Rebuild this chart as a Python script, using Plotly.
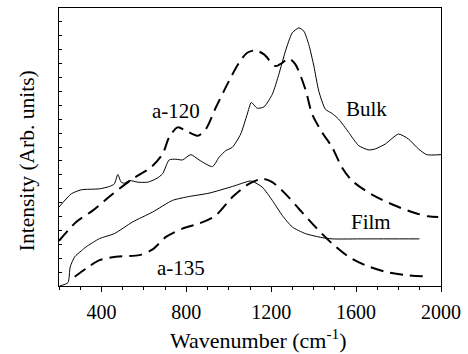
import plotly.graph_objects as go

bulk_x = [200, 258, 305, 391, 438, 461, 477, 493, 508, 532, 571, 618, 657, 688, 719, 751, 782, 821, 860, 923, 954, 986, 1017, 1056, 1087, 1106, 1134, 1166, 1205, 1236, 1267, 1299, 1330, 1354, 1377, 1401, 1424, 1455, 1487, 1518, 1565, 1612, 1659, 1690, 1737, 1800, 1847, 1894, 1933, 2000]
bulk_y = [5.68, 6.63, 6.92, 6.99, 7.16, 7.35, 8.02, 7.47, 7.40, 7.59, 7.47, 7.47, 7.71, 8.07, 9.07, 9.12, 9.07, 9.45, 9.07, 8.59, 9.26, 9.74, 9.98, 10.93, 12.36, 13.20, 12.79, 12.89, 13.79, 15.23, 16.90, 18.21, 18.57, 18.33, 17.37, 15.82, 14.03, 12.72, 12.41, 12.00, 11.05, 10.10, 9.79, 9.86, 10.21, 10.93, 10.57, 9.86, 9.45, 9.45]

a120_x = [200, 281, 360, 454, 547, 634, 688, 719, 759, 798, 853, 892, 939, 1001, 1048, 1087, 1127, 1166, 1220, 1252, 1283, 1314, 1361, 1393, 1440, 1487, 1533, 1580, 1643, 1721, 1800, 1878, 1940, 1987]
a120_y = [3.25, 4.61, 5.44, 6.63, 7.71, 8.54, 9.50, 10.69, 11.41, 11.17, 10.81, 11.29, 12.84, 14.75, 16.06, 16.78, 16.95, 16.66, 15.82, 16.06, 16.37, 15.94, 14.15, 12.36, 11.05, 9.98, 8.54, 7.59, 6.87, 6.21, 5.68, 5.25, 5.01, 4.96]

film_x = [203, 242, 253, 274, 305, 328, 391, 461, 547, 641, 735, 814, 907, 1017, 1095, 1110, 1158, 1205, 1252, 1299, 1361, 1440, 1487, 1643, 1898]
film_y = [0.0, 0.24, 1.38, 2.10, 2.53, 2.82, 3.41, 3.77, 4.61, 5.32, 6.16, 6.44, 6.68, 7.16, 7.54, 7.54, 7.11, 6.16, 5.08, 4.25, 3.77, 3.48, 3.39, 3.39, 3.39]

a135_x = [274, 328, 391, 469, 579, 641, 704, 782, 860, 939, 1017, 1095, 1158, 1205, 1267, 1330, 1408, 1487, 1565, 1643, 1737, 1831, 1940]
a135_y = [0.67, 1.26, 1.86, 2.10, 2.22, 2.63, 3.53, 4.13, 4.49, 5.08, 6.40, 7.35, 7.71, 7.47, 6.63, 5.56, 4.25, 3.05, 2.10, 1.50, 1.03, 0.79, 0.67]

labels = ["a-120", "Bulk", "Film", "a-135"]
label_x = [752, 1649, 1672, 776]
label_y = [12.6, 12.76, 4.59, 1.29]

x_title = "Wavenumber (cm<sup>-1</sup>)"
y_title = "Intensity (Arb. units)"

FONT = "Liberation Serif"

fig = go.Figure()
fig.add_trace(go.Scatter(x=bulk_x, y=bulk_y, mode="lines",
                         line=dict(color="black", width=1, shape="spline", smoothing=0.6)))
fig.add_trace(go.Scatter(x=a120_x, y=a120_y, mode="lines",
                         line=dict(color="black", width=2, dash="13px,7px", shape="spline", smoothing=0.8)))
fig.add_trace(go.Scatter(x=film_x, y=film_y, mode="lines",
                         line=dict(color="black", width=1, shape="spline", smoothing=0.6)))
fig.add_trace(go.Scatter(x=a135_x, y=a135_y, mode="lines",
                         line=dict(color="black", width=2, dash="13px,7px", shape="spline", smoothing=0.8)))

for t, x, y in zip(labels, label_x, label_y):
    fig.add_annotation(x=x, y=y, text=t, showarrow=False,
                       font=dict(family=FONT, size=21, color="black"))

# axis titles placed as paper annotations to match reference offsets
fig.add_annotation(x=0.523, y=-0.19, xref="paper", yref="paper", text=x_title, showarrow=False,
                   xanchor="center", yanchor="middle", font=dict(family=FONT, size=22, color="black"))
fig.add_annotation(x=-0.083, y=0.45, xref="paper", yref="paper", text=y_title, showarrow=False,
                   textangle=-90, xanchor="center", yanchor="middle", font=dict(family=FONT, size=21.5, color="black"))

fig.update_layout(
    width=468, height=354,
    margin=dict(l=59, r=25, t=7, b=68),
    paper_bgcolor="white", plot_bgcolor="white",
    showlegend=False,
    font=dict(family=FONT, color="black"),
)
fig.update_xaxes(
    range=[200, 2000], tickvals=[400, 800, 1200, 1600, 2000],
    ticks="outside", ticklen=5, tickcolor="black", tickwidth=1,
    minor=dict(dtick=100, tick0=200, ticks="outside", ticklen=3, tickcolor="black", tickwidth=1),
    showgrid=False, zeroline=False,
    showline=True, linecolor="black", linewidth=1, mirror=True,
    tickfont=dict(family=FONT, size=20, color="black"),
    ticklabelstandoff=3,
)
fig.update_yaxes(
    range=[0, 20], dtick=1, ticks="inside", ticklen=3, tickcolor="black",
    showticklabels=False, showgrid=False, zeroline=False,
    showline=True, linecolor="black", linewidth=1, mirror=True,
)

fig.write_html("out.html", post_script="document.body.style.margin='0';document.body.style.padding='0';",
               config={"displayModeBar": False})
